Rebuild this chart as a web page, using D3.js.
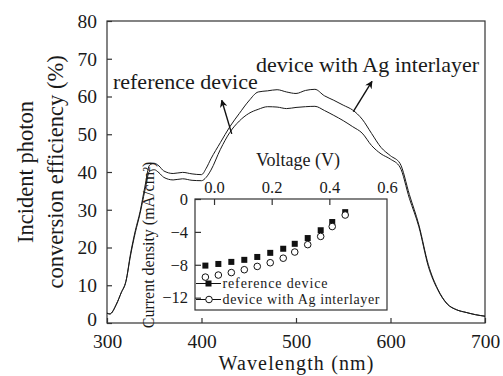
<!DOCTYPE html>
<html>
<head>
<meta charset="utf-8">
<script src="https://d3js.org/d3.v7.min.js"></script>
<style>
body { margin: 0; background: #fff; }
text { font-family: "Liberation Serif", "Times New Roman", serif; fill: #1a1a1a; }
</style>
</head>
<body>
<div id="chart"></div>
<script>
// IPCE spectra (main plot)
const wavelength = [300, 303, 310, 315, 320, 325, 330, 335, 340, 345, 350, 355, 360, 370, 380, 390, 400, 405, 410, 420, 430, 440, 450, 460, 470, 480, 490, 500, 510, 520, 530, 540, 550, 560, 570, 580, 590, 600, 610, 620, 630, 640, 650, 660, 670, 680, 690, 700];
const ipceRef = [2.6, 2.4, 5, 8, 11, 18, 24, 29, 35, 40.2, 40.6, 39.8, 38.6, 37.9, 38.2, 37.8, 37.7, 38.6, 40.5, 46, 50.5, 53.5, 55.5, 56.6, 57.3, 57.2, 56.8, 57.1, 57.3, 57.4, 56.3, 55, 53.6, 52, 50.3, 47, 44.8, 43.4, 41.3, 33, 25.5, 15, 8.8, 5, 3.5, 2.8, 2.2, 1.8];
const ipceAg = [2.6, 2.4, 5, 8, 11, 18.5, 24.5, 29.5, 36, 41.8, 42.3, 41.6, 40.3, 39.6, 39.9, 39.5, 39.3, 41, 43.5, 47.8, 52, 55.5, 58.8, 61.2, 61.5, 61.8, 61.2, 60.8, 61.6, 61.9, 60.2, 59, 57.7, 56.4, 54, 50.2, 46.5, 44.3, 42.3, 34, 26, 15.5, 9, 5.1, 3.5, 2.8, 2.2, 1.8];

// J-V inset
const voltage = [-0.03, 0.015, 0.06, 0.105, 0.15, 0.195, 0.24, 0.28, 0.325, 0.37, 0.41, 0.455];
const jRef = [-8.1, -7.9, -7.65, -7.4, -7.05, -6.55, -6.05, -5.45, -4.75, -3.8, -2.8, -1.6];
const jAg = [-9.5, -9.25, -8.95, -8.6, -8.2, -7.75, -7.2, -6.45, -5.55, -4.55, -3.35, -1.95];

const xTicks = [300, 400, 500, 600, 700];
const yTicks = [0, 10, 20, 30, 40, 50, 60, 70, 80];
const vTicks = [0.0, 0.2, 0.4, 0.6];
const jTicks = [0, -4, -8, -12];

const width = 503, height = 376;
const margin = {top: 21, right: 18, bottom: 53, left: 107};
const font = "Liberation Serif";

const svg = d3.select("#chart").append("svg")
  .attr("width", width)
  .attr("height", height);

const x = d3.scaleLinear().domain([300, 700]).range([margin.left, width - margin.right]);
const y = d3.scaleLinear().domain([0, 80]).range([height - margin.bottom, margin.top]);

const frameColor = "#333";

// frame
svg.append("rect")
  .attr("x", x(300)).attr("y", y(80))
  .attr("width", x(700) - x(300)).attr("height", y(0) - y(80))
  .attr("fill", "none").attr("stroke", frameColor).attr("stroke-width", 1.2);

// axes (ticks inward)
const xAxis = svg.append("g")
  .attr("transform", `translate(0,${y(0)})`)
  .call(d3.axisBottom(x).tickValues(xTicks).tickSizeInner(-5).tickSizeOuter(0).tickPadding(11));
const yAxis = svg.append("g")
  .attr("transform", `translate(${x(300)},0)`)
  .call(d3.axisLeft(y).tickValues(yTicks).tickSizeInner(-5).tickSizeOuter(0).tickPadding(10));
[xAxis, yAxis].forEach(a => {
  a.select(".domain").remove();
  a.selectAll("line").attr("stroke", frameColor).attr("stroke-width", 1.2);
  a.selectAll("text").attr("font-size", 19.5).attr("font-family", font).attr("fill", "#1a1a1a");
});
// lift the "0" label a little so it clears the "300" label
yAxis.selectAll(".tick").filter(d => d === 0).select("text").attr("y", -4);

// axis titles
svg.append("text")
  .attr("x", (x(300) + x(700)) / 2).attr("y", 370)
  .attr("text-anchor", "middle").attr("font-size", 20)
  .attr("textLength", 155).attr("lengthAdjust", "spacing")
  .text("Wavelength (nm)");

const yMid = (y(0) + y(80)) / 2;
svg.append("text")
  .attr("transform", `translate(33,${yMid}) rotate(-90)`)
  .attr("text-anchor", "middle").attr("font-size", 22.5)
  .text("Incident photon");
svg.append("text")
  .attr("transform", `translate(63,${yMid}) rotate(-90)`)
  .attr("text-anchor", "middle").attr("font-size", 22.5)
  .text("conversion efficiency (%)");

// curves
const line = d3.line().x((d, i) => x(wavelength[i])).y(d => y(d)).curve(d3.curveMonotoneX);
[ipceRef, ipceAg].forEach(s => {
  svg.append("path")
    .datum(s)
    .attr("d", line)
    .attr("fill", "none")
    .attr("stroke", "#1a1a1a")
    .attr("stroke-width", 1);
});

// annotations with arrows
svg.append("defs").append("marker")
  .attr("id", "arrow")
  .attr("viewBox", "0 0 10 10")
  .attr("refX", 9).attr("refY", 5)
  .attr("markerWidth", 5.5).attr("markerHeight", 5.5)
  .attr("orient", "auto")
  .append("path").attr("d", "M0,0 L10,5 L0,10 L3,5 Z").attr("fill", "#111");

const notes = [
  {label: "reference device", tx: 306.3, ty: 62, from: [432, 50.1], to: [421.4, 59]},
  {label: "device with Ag interlayer", tx: 457.7, ty: 66.6, from: [560.6, 56], to: [580.4, 64]}
];
notes.forEach(n => {
  svg.append("text")
    .attr("x", x(n.tx)).attr("y", y(n.ty))
    .attr("font-size", 22)
    .text(n.label);
  svg.append("line")
    .attr("x1", x(n.from[0])).attr("y1", y(n.from[1]))
    .attr("x2", x(n.to[0])).attr("y2", y(n.to[1]))
    .attr("stroke", "#111").attr("stroke-width", 1.4)
    .attr("marker-end", "url(#arrow)");
});

// ---- inset J-V ----
const ix = d3.scaleLinear().domain([-0.066, 0.6]).range([195, 387]);
const iy = d3.scaleLinear().domain([-13.5, 0]).range([310, 199]);

svg.append("rect")
  .attr("x", ix(-0.066)).attr("y", iy(0))
  .attr("width", ix(0.6) - ix(-0.066)).attr("height", iy(-13.5) - iy(0))
  .attr("fill", "#fff").attr("stroke", frameColor).attr("stroke-width", 1.2);

const ixAxis = svg.append("g")
  .attr("transform", `translate(0,${iy(0)})`)
  .call(d3.axisTop(ix).tickValues(vTicks).tickFormat(d3.format(".1f")).tickSizeInner(-6).tickSizeOuter(0).tickPadding(6));
const iyAxis = svg.append("g")
  .attr("transform", `translate(${ix(-0.066)},0)`)
  .call(d3.axisLeft(iy).tickValues(jTicks).tickFormat(d => d === 0 ? "0" : "\u2212" + Math.abs(d)).tickSizeInner(-6).tickSizeOuter(0).tickPadding(7));
[ixAxis, iyAxis].forEach(a => {
  a.select(".domain").remove();
  a.selectAll("line").attr("stroke", frameColor).attr("stroke-width", 1.2);
  a.selectAll("text").attr("font-size", 16.5).attr("font-family", font).attr("fill", "#1a1a1a");
});
// hide the tick mark that falls on the right border
ixAxis.selectAll(".tick").filter(d => d === 0.6).select("line").remove();

svg.append("text")
  .attr("x", 298).attr("y", 166)
  .attr("text-anchor", "middle").attr("font-size", 18)
  .text("Voltage (V)");

svg.append("text")
  .attr("transform", `translate(154,245) rotate(-90)`)
  .attr("text-anchor", "middle").attr("font-size", 16)
  .text("Current density (mA/cm²)");

// data points
svg.append("g").selectAll("rect")
  .data(voltage)
  .join("rect")
  .attr("x", (d) => ix(d) - 3).attr("y", (d, i) => iy(jRef[i]) - 3)
  .attr("width", 6).attr("height", 6)
  .attr("fill", "#111");
svg.append("g").selectAll("circle")
  .data(voltage)
  .join("circle")
  .attr("cx", d => ix(d)).attr("cy", (d, i) => iy(jAg[i]))
  .attr("r", 3.3)
  .attr("fill", "#fff").attr("stroke", "#111").attr("stroke-width", 1);

// inset legend
const legend = [
  {label: "reference device", type: "square", yy: 283.5, len: 105},
  {label: "device with Ag interlayer", type: "circle", yy: 299.5, len: 157}
];
legend.forEach(l => {
  svg.append("line")
    .attr("x1", 196).attr("x2", 221)
    .attr("y1", l.yy).attr("y2", l.yy)
    .attr("stroke", "#111").attr("stroke-width", 1);
  if (l.type === "square") {
    svg.append("rect").attr("x", 205.5).attr("y", l.yy - 3).attr("width", 6).attr("height", 6).attr("fill", "#111");
  } else {
    svg.append("circle").attr("cx", 209).attr("cy", l.yy).attr("r", 3.3)
      .attr("fill", "#fff").attr("stroke", "#111").attr("stroke-width", 1);
  }
  svg.append("text")
    .attr("x", 222.5).attr("y", l.yy + 4.2)
    .attr("font-size", 14)
    .attr("textLength", l.len).attr("lengthAdjust", "spacing")
    .text(l.label);
});
</script>
</body>
</html>
